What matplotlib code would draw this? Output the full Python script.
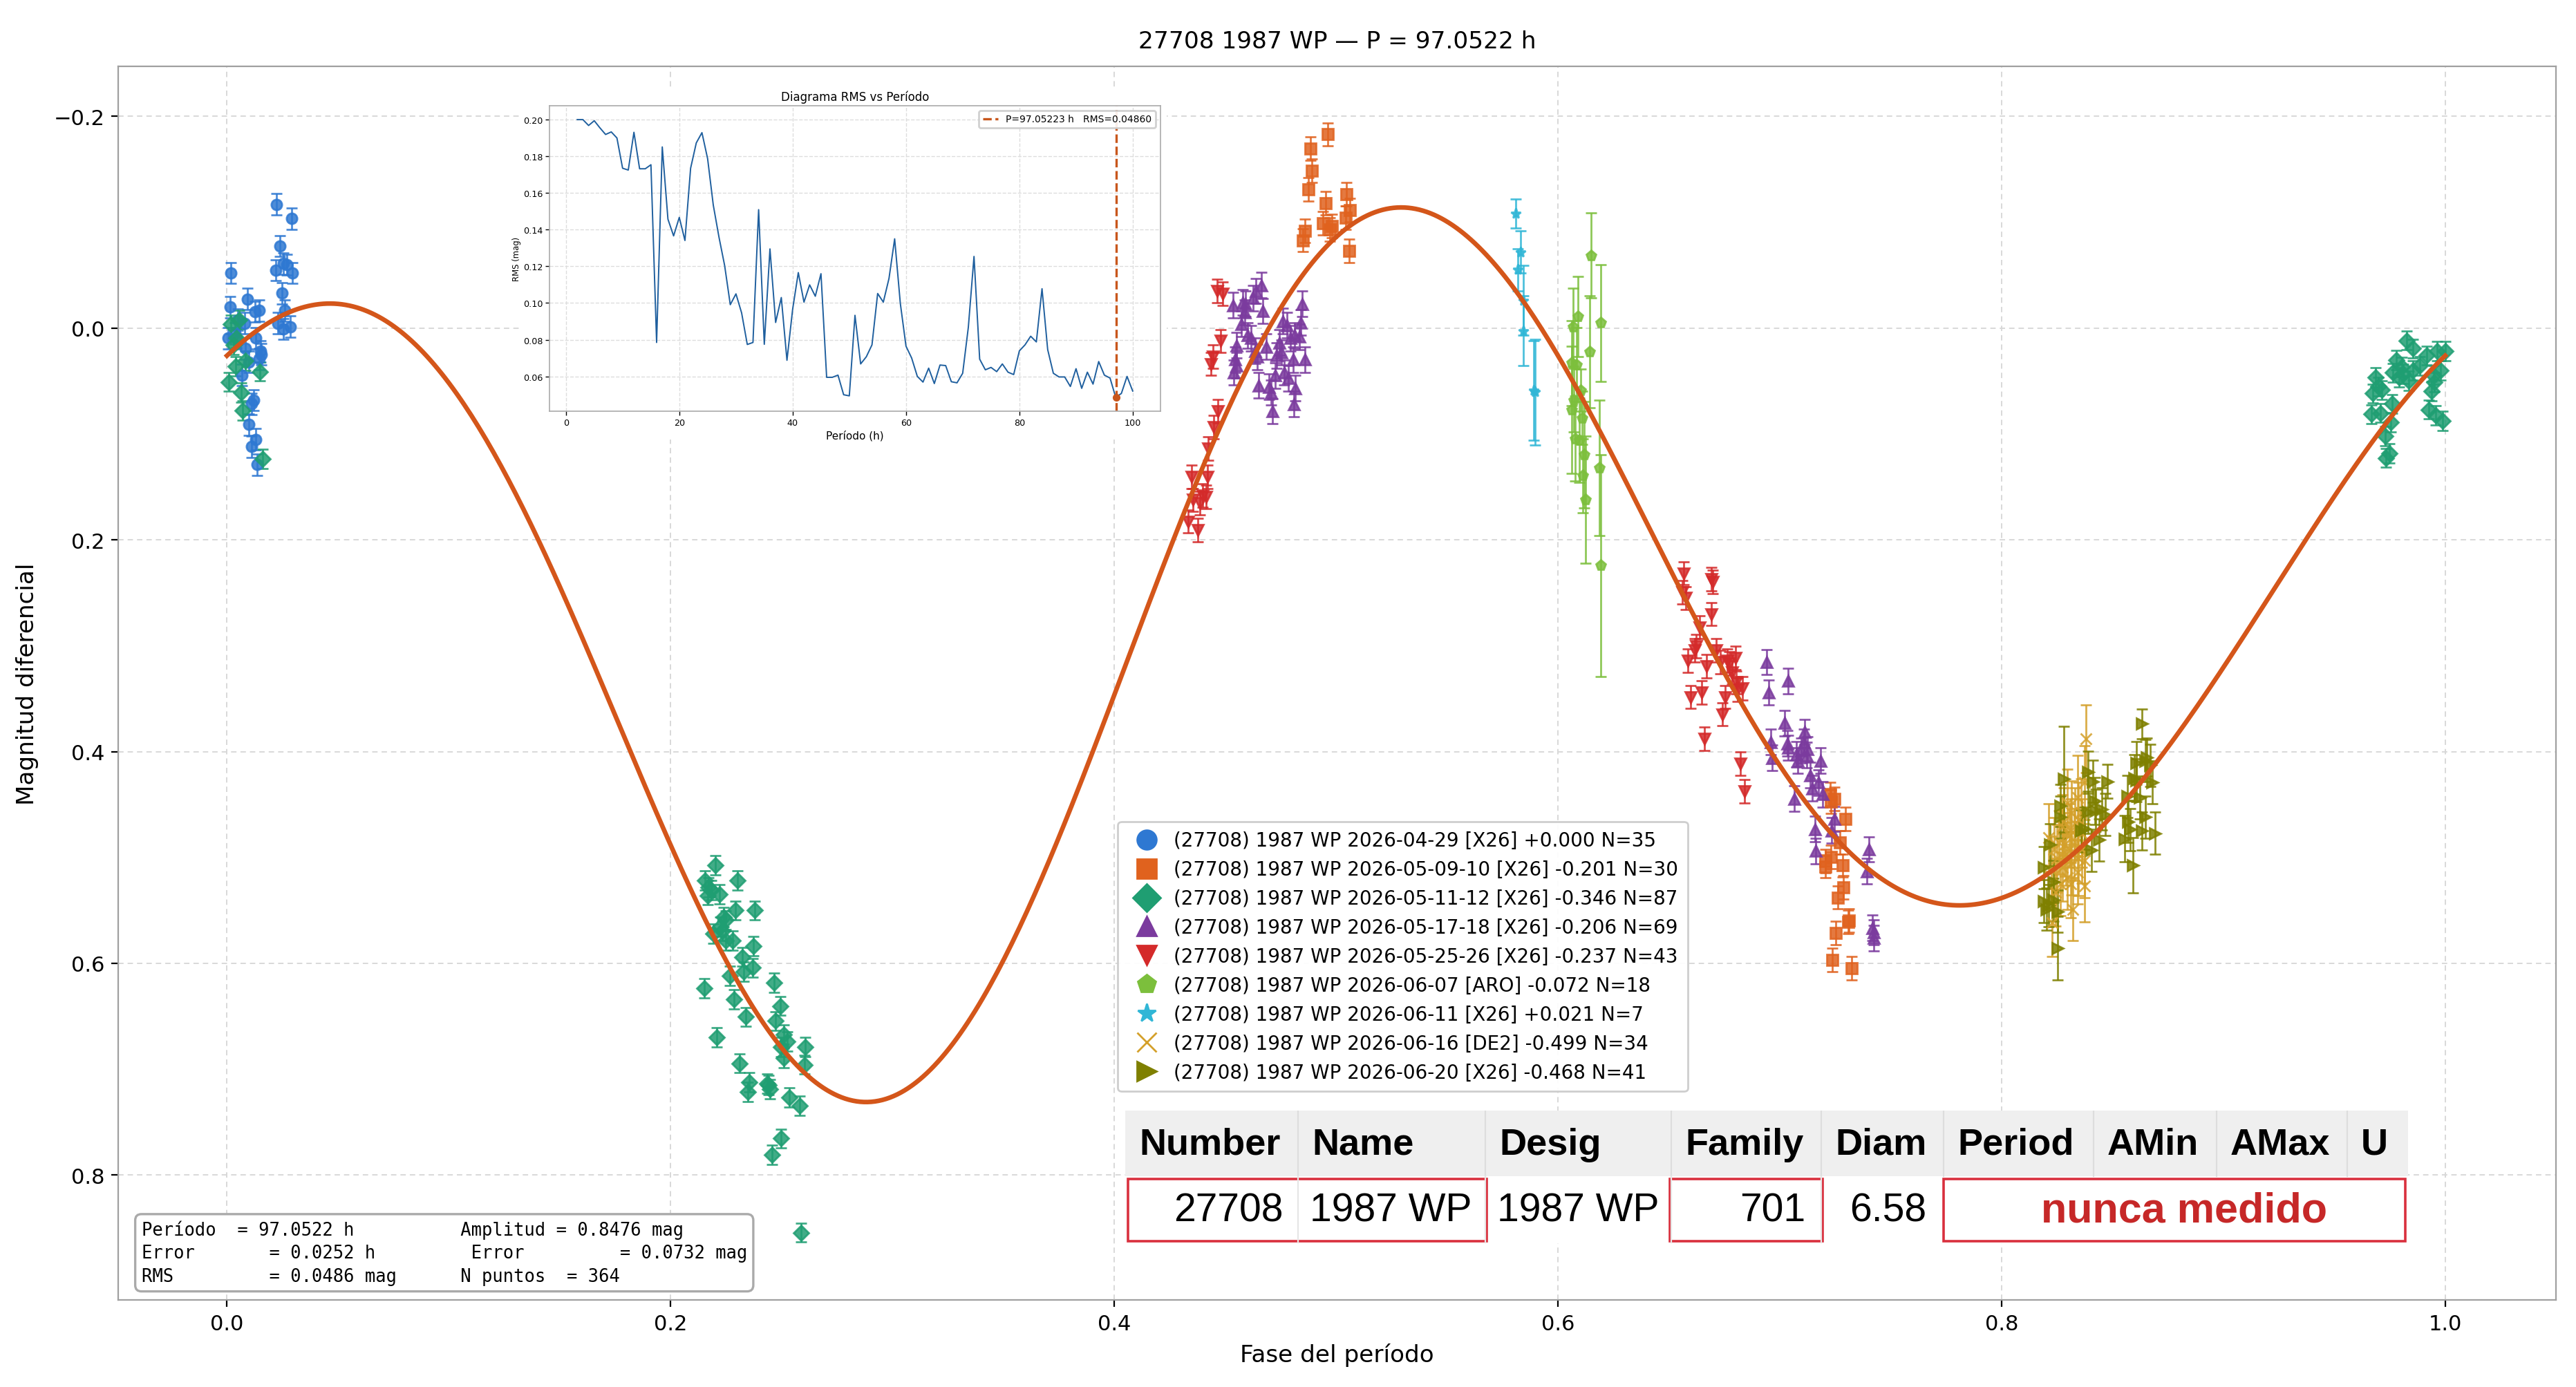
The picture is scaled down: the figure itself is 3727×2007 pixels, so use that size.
import numpy as np
import matplotlib.pyplot as plt
from matplotlib.lines import Line2D
from matplotlib.patches import Rectangle

W, H = 3727, 2008

# ---- light-curve data (phase, differential mag, error) ----
blue_ph = [0.0017, 0.0224, 0.0292, 0.0238, 0.0219, 0.0256, 0.0271, 0.0295, 0.0247, 0.0261, 0.0229, 0.0253,
           0.0286, 0.0014, 0.0092, 0.0126, 0.0146, 0.0079, 0.0006, 0.0131, 0.0084, 0.0154, 0.0146, 0.0100,
           0.0069, 0.0110, 0.0100, 0.0131, 0.0112, 0.0136, 0.0043, 0.0151, 0.0120, 0.0050, 0.0035]
blue_mag = [-0.052, -0.117, -0.1035, -0.0775, -0.0546, -0.061, -0.0598, -0.052, -0.033, -0.0166, -0.0046, 0.0009,
            -0.0013, -0.0198, -0.0274, -0.0155, -0.0166, -0.0046, 0.0095, 0.0095, 0.0193, 0.0247, 0.029, 0.032,
            0.0443, 0.0715, 0.091, 0.105, 0.112, 0.129, 0.0095, 0.022, 0.068, -0.008, 0.005]
blue_err = 0.010

orange_ph = [0.4961, 0.4883, 0.4892, 0.4875, 0.4952, 0.5048, 0.5063, 0.5042, 0.4941, 0.4982, 0.4860, 0.4849,
             0.5059, 0.4973, 0.7226, 0.7231, 0.7296, 0.7272, 0.7207, 0.7207, 0.7283, 0.7288, 0.7262, 0.7311,
             0.7252, 0.7238, 0.7324, 0.7307, 0.7231, 0.7247]
orange_mag = [-0.1830, -0.1695, -0.1487, -0.1311, -0.1181, -0.1263, -0.1117, -0.1041, -0.0992, -0.0965, -0.0919,
              -0.0830, -0.0730, -0.0932, 0.4403, 0.4471, 0.4636, 0.4856, 0.5034, 0.5084, 0.5076, 0.5282, 0.5377,
              0.5597, 0.5715, 0.5968, 0.6045, 0.5611, 0.4993, 0.4445]
orange_err = 0.011

green_ph = [0.0017, 0.0054, 0.0043, 0.0030, 0.0084, 0.0038, 0.0150, 0.0008, 0.0063, 0.0071, 0.0160,
            0.2203, 0.2156, 0.2302, 0.2172, 0.2219, 0.2167, 0.2291, 0.2380, 0.2240, 0.2193, 0.2234, 0.2281,
            0.2250, 0.2374, 0.2323, 0.2369, 0.2328, 0.2266, 0.2468, 0.2151, 0.2286, 0.2494, 0.2338, 0.2473,
            0.2510, 0.2525, 0.2208, 0.2499, 0.2608, 0.2510, 0.2603, 0.2312, 0.2354, 0.2437, 0.2349, 0.2447,
            0.2536, 0.2583, 0.2499, 0.2458, 0.2588, 0.2183, 0.2250, 0.2224, 0.2442,
            0.9827, 0.9853, 0.9780, 0.9915, 0.9962, 0.9999, 0.9765, 0.9812, 0.9853, 0.9791, 0.9947, 0.9978,
            0.9687, 0.9713, 0.9672, 0.9937, 0.9760, 0.9666, 0.9708, 0.9926, 0.9957, 0.9988, 0.9755, 0.9729,
            0.9749, 0.9734, 0.9884, 0.9805, 0.9834, 0.9952, 0.9698]
green_mag = [-0.0035, -0.008, 0.0095, 0.016, 0.031, 0.036, 0.041, 0.0508, 0.061, 0.078, 0.1237,
             0.5075, 0.5217, 0.5217, 0.5282, 0.5346, 0.5358, 0.55, 0.55, 0.5564, 0.5719, 0.5693, 0.5784,
             0.5784, 0.5836, 0.5939, 0.6042, 0.6080, 0.6119, 0.6183, 0.6235, 0.6338, 0.6403, 0.6506, 0.6545,
             0.6673, 0.6738, 0.6699, 0.6790, 0.6790, 0.6893, 0.6957, 0.6944, 0.7125, 0.7138, 0.7215, 0.7189,
             0.7266, 0.7344, 0.7654, 0.7807, 0.8543, 0.5307, 0.5592, 0.5654, 0.7150,
             0.0117, 0.0193, 0.0302, 0.0258, 0.0215, 0.0215, 0.0422, 0.0432, 0.0400, 0.0465, 0.0443, 0.0400,
             0.0465, 0.0585, 0.0617, 0.0596, 0.0715, 0.0813, 0.0802, 0.0769, 0.0824, 0.0878, 0.0889, 0.1020,
             0.1183, 0.1226, 0.0357, 0.0367, 0.0497, 0.0510, 0.0552]
green_err = 0.009

purple_ph = [0.4662, 0.4639, 0.4627, 0.4535, 0.4579, 0.4587, 0.4671, 0.4846, 0.4572, 0.4760, 0.4777, 0.4840,
             0.4601, 0.4794, 0.4835, 0.4552, 0.4685, 0.4644, 0.4731, 0.4754, 0.4806, 0.4858, 0.4552, 0.4540,
             0.4725, 0.4766, 0.4786, 0.4650, 0.4696, 0.4817, 0.4708, 0.4809, 0.4713, 0.4615, 0.4591, 0.4744,
             0.4636, 0.4813, 0.4546,
             0.6940, 0.6950, 0.7038, 0.7023, 0.7033, 0.6961, 0.6966, 0.7080, 0.7111, 0.7126, 0.7098, 0.7184,
             0.7137, 0.7147, 0.7173, 0.7194, 0.7064, 0.7246, 0.7158, 0.7235, 0.7163, 0.7402, 0.7392, 0.7418,
             0.7423, 0.7075, 0.7108, 0.7123, 0.7039, 0.7423]
purple_mag = [-0.0405, -0.0351, -0.0284, -0.0216, -0.0243, -0.0148, -0.0162, -0.0230, -0.0040, -0.0067, -0.0027,
              -0.0054, 0.0068, 0.0095, 0.0082, 0.0162, 0.0176, 0.0271, 0.0257, 0.0230, 0.0298, 0.0298, 0.0352,
              0.0419, 0.0447, 0.0419, 0.0474, 0.0541, 0.0555, 0.0568, 0.0609, 0.0717, 0.0785, 0.0095, -0.0230,
              0.0136, 0.0216, 0.0068, 0.0298,
              0.3154, 0.3442, 0.3332, 0.3731, 0.3922, 0.3909, 0.4060, 0.4087, 0.3813, 0.3977, 0.3990, 0.4087,
              0.4224, 0.4348, 0.4293, 0.4403, 0.4444, 0.4636, 0.4733, 0.4746, 0.4938, 0.4924, 0.5131, 0.5666,
              0.5762, 0.4028, 0.3909, 0.4033, 0.3964, 0.5707]
purple_err = 0.012

red_ph = [0.4463, 0.4489, 0.4479, 0.4445, 0.4437, 0.4466, 0.4448, 0.4422, 0.4348, 0.4419, 0.4356, 0.4397,
          0.4414, 0.4333, 0.4376, 0.4387,
          0.6566, 0.6691, 0.6698, 0.6561, 0.6576, 0.6691, 0.6639, 0.6623, 0.6618, 0.6587, 0.6712, 0.6670,
          0.6732, 0.6774, 0.6800, 0.6784, 0.6805, 0.6831, 0.6810, 0.6597, 0.6649, 0.6753, 0.6743, 0.6659,
          0.6821, 0.6841, 0.6763]
red_mag = [-0.0351, -0.0324, 0.0122, 0.0271, 0.0338, 0.0785, 0.0933, 0.1136, 0.1407, 0.1407, 0.1623, 0.1583,
           0.1596, 0.1826, 0.1907, 0.1651,
           0.2316, 0.2371, 0.2399, 0.2495, 0.2550, 0.2701, 0.2825, 0.3002, 0.3044, 0.3140, 0.3044, 0.3195,
           0.3154, 0.3168, 0.3113, 0.3250, 0.3346, 0.3401, 0.3415, 0.3484, 0.3442, 0.3484, 0.3648, 0.3881,
           0.4115, 0.4376, 0.3140]
red_err = 0.011

lime_ph = [0.6150, 0.6091, 0.6067, 0.6192, 0.6143, 0.6062, 0.6083, 0.6104, 0.6072, 0.6062, 0.6109, 0.6077,
           0.6098, 0.6119, 0.6187, 0.6113, 0.6124, 0.6192]
lime_mag = [-0.0687, -0.0110, -0.0010, -0.0049, 0.0224, 0.0330, 0.0346, 0.0588, 0.0680, 0.0771, 0.0847, 0.1044,
            0.1059, 0.1196, 0.1318, 0.1393, 0.1621, 0.2243]
lime_err = [0.040, 0.038, 0.037, 0.055, 0.053, 0.040, 0.035, 0.020, 0.030, 0.060, 0.025, 0.040,
            0.040, 0.050, 0.064, 0.035, 0.060, 0.105]

cyan_ph = [0.5811, 0.5831, 0.5818, 0.5844, 0.5844, 0.5891, 0.5896]
cyan_mag = [-0.1082, -0.0718, -0.0551, -0.0262, 0.0027, 0.0588, 0.0604]
cyan_err = [0.014, 0.020, 0.020, 0.033, 0.033, 0.047, 0.050]

gold_ph = [0.8381, 0.8373, 0.8342, 0.8295, 0.8316, 0.8280, 0.8347, 0.8311, 0.8212, 0.8259, 0.8326, 0.8363,
           0.8290, 0.8248, 0.8373, 0.8316, 0.8274, 0.8342, 0.8224, 0.8295, 0.8373, 0.8264, 0.8243, 0.8321,
           0.8228, 0.8306, 0.8332, 0.8358, 0.8285, 0.8347, 0.8274, 0.8363, 0.8238, 0.8311]
gold_mag = [0.3878, 0.4291, 0.4433, 0.4487, 0.4575, 0.4661, 0.4640, 0.4748, 0.4813, 0.4857, 0.4879, 0.4922,
            0.4966, 0.5009, 0.5031, 0.5053, 0.5096, 0.5140, 0.5118, 0.5194, 0.5270, 0.5249, 0.5325, 0.5488,
            0.5618, 0.4792, 0.4683, 0.4575, 0.4879, 0.5009, 0.4705, 0.4770, 0.4922, 0.5249]
gold_err = [0.032, 0.035, 0.040, 0.032, 0.030, 0.032, 0.035, 0.030, 0.032, 0.030, 0.034, 0.032,
            0.030, 0.032, 0.035, 0.030, 0.032, 0.030, 0.032, 0.030, 0.034, 0.030, 0.032, 0.030,
            0.032, 0.030, 0.034, 0.032, 0.030, 0.035, 0.030, 0.032, 0.030, 0.032]

olive_ph = [0.8633, 0.8607, 0.8654, 0.8670, 0.8597, 0.8680, 0.8566, 0.8623, 0.8649, 0.8571, 0.8581, 0.8633,
            0.8691, 0.8555, 0.8591, 0.8280, 0.8389, 0.8410, 0.8477, 0.8420, 0.8451, 0.8467, 0.8264, 0.8264,
            0.8373, 0.8441, 0.8217, 0.8405, 0.8191, 0.8233, 0.8191, 0.8233, 0.8202, 0.8254, 0.8254, 0.8212,
            0.8425, 0.8358, 0.8649, 0.8607, 0.8389]
olive_mag = [0.3737, 0.4107, 0.4053, 0.4129, 0.4248, 0.4291, 0.4422, 0.4433, 0.4618, 0.4661, 0.4737, 0.4748,
             0.4770, 0.4824, 0.5074, 0.4259, 0.4194, 0.4281, 0.4281, 0.4466, 0.4542, 0.4596, 0.4509, 0.4618,
             0.4726, 0.4835, 0.4879, 0.4933, 0.5096, 0.5227, 0.5412, 0.5400, 0.5488, 0.5509, 0.5857, 0.5455,
             0.4555, 0.4748, 0.4085, 0.4270, 0.4574]
olive_err = [0.014, 0.020, 0.018, 0.020, 0.022, 0.020, 0.020, 0.020, 0.020, 0.020, 0.020, 0.018,
             0.020, 0.022, 0.026, 0.050, 0.020, 0.020, 0.016, 0.022, 0.020, 0.020, 0.020, 0.020,
             0.020, 0.020, 0.020, 0.020, 0.020, 0.020, 0.020, 0.020, 0.020, 0.020, 0.030, 0.020,
             0.020, 0.020, 0.020, 0.020, 0.020]

labels = ["(27708) 1987 WP 2026-04-29 [X26] +0.000 N=35",
          "(27708) 1987 WP 2026-05-09-10 [X26] -0.201 N=30",
          "(27708) 1987 WP 2026-05-11-12 [X26] -0.346 N=87",
          "(27708) 1987 WP 2026-05-17-18 [X26] -0.206 N=69",
          "(27708) 1987 WP 2026-05-25-26 [X26] -0.237 N=43",
          "(27708) 1987 WP 2026-06-07 [ARO] -0.072 N=18",
          "(27708) 1987 WP 2026-06-11 [X26] +0.021 N=7",
          "(27708) 1987 WP 2026-06-16 [DE2] -0.499 N=34",
          "(27708) 1987 WP 2026-06-20 [X26] -0.468 N=41"]

# Fourier fit of the light curve, order 4: c0, (a_k, b_k) for k = 1..4
fit_coef = [0.28502, 0.01538, 0.05607, -0.31635, -0.15478, 0.04063, -0.02099, 0.00136, -0.00028]

# RMS periodogram (inset)
per_h = list(range(2, 101))
rms = [0.200, 0.200, 0.1968, 0.1994, 0.1955, 0.1919, 0.1933, 0.1900, 0.1735, 0.1725, 0.1931, 0.1732,
       0.1732, 0.1754, 0.0785, 0.1851, 0.1457, 0.1366, 0.1467, 0.1341, 0.1735, 0.1873, 0.1929, 0.1787,
       0.1534, 0.1360, 0.1205, 0.0991, 0.1050, 0.0946, 0.0774, 0.0785, 0.1509, 0.0775, 0.1295, 0.0894,
       0.1030, 0.0688, 0.0966, 0.1166, 0.1005, 0.1099, 0.1037, 0.1160, 0.0595, 0.0595, 0.0607, 0.0500,
       0.0494, 0.0933, 0.0668, 0.0707, 0.0772, 0.1052, 0.1005, 0.1134, 0.1350, 0.0998, 0.0765, 0.0700,
       0.0600, 0.0569, 0.0645, 0.0561, 0.0662, 0.0659, 0.0571, 0.0565, 0.0617, 0.0868, 0.1254, 0.0694,
       0.0636, 0.0649, 0.0626, 0.0668, 0.0623, 0.0610, 0.0739, 0.0772, 0.0819, 0.0788, 0.1078, 0.0746,
       0.0617, 0.0597, 0.0597, 0.0545, 0.0642, 0.0535, 0.0623, 0.0558, 0.0681, 0.0607, 0.0591, 0.0486,
       0.0507, 0.0600, 0.0520]
best_p, best_rms = 97.05223, 0.04860

stats = ("Período  = 97.0522 h          Amplitud = 0.8476 mag\n"
         "Error       = 0.0252 h         Error         = 0.0732 mag\n"
         "RMS         = 0.0486 mag      N puntos  = 364")

fig = plt.figure(figsize=(W / 200, H / 200), dpi=200)
ax = fig.add_axes([0.0459, 0.0627, 0.9464, 0.8888])

series = [
    (blue_ph, blue_mag, blue_err, "o", "#2e78d2"),
    (orange_ph, orange_mag, orange_err, "s", "#e0621e"),
    (green_ph, green_mag, green_err, "D", "#1f9e72"),
    (purple_ph, purple_mag, purple_err, "^", "#7b3b9e"),
    (red_ph, red_mag, red_err, "v", "#d42a2a"),
    (lime_ph, lime_mag, lime_err, "p", "#7cbf3c"),
    (cyan_ph, cyan_mag, cyan_err, "*", "#30b6d6"),
    (gold_ph, gold_mag, gold_err, "x", "#d4a02a"),
    (olive_ph, olive_mag, olive_err, ">", "#7f8000"),
]
handles = []
for (ph, mg, er, mk, col), lab in zip(series, labels):
    ax.errorbar(ph, mg, yerr=er, fmt=mk, color=col, ms=5.5, elinewidth=1.0, capsize=2.8,
                capthick=1.0, alpha=0.85, zorder=3)
    handles.append(Line2D([], [], ls="none", marker=mk, color=col, ms=10, label=lab))

xx = np.linspace(0, 1, 600)
yy = np.full_like(xx, fit_coef[0])
for k in range(1, 5):
    yy += fit_coef[2 * k - 1] * np.cos(2 * np.pi * k * xx) + fit_coef[2 * k] * np.sin(2 * np.pi * k * xx)
ax.plot(xx, yy, color="#d4561a", lw=2.4, zorder=4)

ax.set_xlim(-0.049, 1.050)
ax.set_ylim(0.918, -0.247)
ax.set_xticks([0.0, 0.2, 0.4, 0.6, 0.8, 1.0])
ax.set_yticks([-0.2, 0.0, 0.2, 0.4, 0.6, 0.8])
ax.tick_params(labelsize=11)
ax.grid(True, ls=(0, (4, 3)), color="#d8d8d8", lw=0.7)
for s in ax.spines.values():
    s.set_color("#a0a0a0")
ax.set_xlabel("Fase del período", fontsize=12.3, labelpad=5)
ax.set_ylabel("Magnitud diferencial", fontsize=12.3, labelpad=8)
ax.set_title("27708 1987 WP — P = 97.0522 h", fontsize=12.4, pad=10)

leg = ax.legend(handles=handles, loc="lower left", bbox_to_anchor=(0.410, 0.169), fontsize=10,
                borderaxespad=0, framealpha=0.95, edgecolor="#cccccc", handletextpad=0.4,
                labelspacing=0.5, borderpad=0.5)
leg.set_zorder(5)

ax.text(0.0095, 0.012, stats, transform=ax.transAxes, family="DejaVu Sans Mono", fontsize=9.2,
        va="bottom", ha="left", zorder=6, linespacing=1.36,
        bbox=dict(boxstyle="round,pad=0.35", fc="white", ec="#aaaaaa", lw=1.2))

# ---- table image recreated ----
tx0, tx1, ty0, ty1 = 1628, 3484, 1608, 1800
axt = fig.add_axes([tx0 / W, 1 - ty1 / H, (tx1 - tx0) / W, (ty1 - ty0) / H])
axt.set_xlim(tx0, tx1)
axt.set_ylim(ty1, ty0)
axt.axis("off")
col_edges = [1628, 1878, 2149, 2418, 2635, 2812, 3029, 3207, 3396, 3484]
headers = ["Number", "Name", "Desig", "Family", "Diam", "Period", "AMin", "AMax", "U"]
axt.add_patch(Rectangle((1628, 1608), 1856, 95, fc="#efefef", ec="none"))
axt.add_patch(Rectangle((1628, 1703), 1856, 97, fc="white", ec="none"))
for xe in col_edges[1:-1]:
    axt.plot([xe, xe], [1608, 1703], color="#dddddd", lw=0.8)
for xe in [1878, 2149, 2418, 2635]:
    axt.plot([xe, xe], [1703, 1800], color="#e6e6e6", lw=0.8)
for xe, h in zip(col_edges[:-1], headers):
    axt.text(xe + 20, 1657, h, fontsize=19.5, fontweight="bold", family="Liberation Sans",
             ha="left", va="center")
axt.text(1857, 1753, "27708", fontsize=20.5, family="Liberation Sans", ha="right", va="center")
axt.text(1895, 1753, "1987 WP", fontsize=20.5, family="Liberation Sans", ha="left", va="center")
axt.text(2166, 1753, "1987 WP", fontsize=20.5, family="Liberation Sans", ha="left", va="center")
axt.text(2612, 1753, "701", fontsize=20.5, family="Liberation Sans", ha="right", va="center")
axt.text(2787, 1753, "6.58", fontsize=20.5, family="Liberation Sans", ha="right", va="center")
axt.text(3160, 1753, "nunca medido", fontsize=22, fontweight="bold", color="#c62828",
         family="Liberation Sans", ha="center", va="center")
for x0, x1 in [(1632, 2151), (2416, 2637), (2812, 3480)]:
    axt.add_patch(Rectangle((x0, 1707), x1 - x0, 90, fc="none", ec="#d9303e", lw=1.3))

# ---- inset: RMS vs period ----
bg = fig.add_axes([752 / W, 1 - 637 / H, (1688 - 752) / W, (637 - 131) / H])
bg.set_facecolor("white")
bg.set_xticks([])
bg.set_yticks([])
for s in bg.spines.values():
    s.set_visible(False)
ins = fig.add_axes([795 / W, 1 - 596 / H, (1679 - 795) / W, (596 - 154) / H])
ins.plot(per_h, rms, color="#1f5f9e", lw=0.7)
ins.axvline(best_p, color="#c8561c", ls="--", lw=1.2, label=f"P={best_p:.5f} h   RMS={best_rms:.5f}")
ins.plot([best_p], [best_rms], "o", color="#c8561c", ms=3)
ins.set_title("Diagrama RMS vs Período", fontsize=6, pad=3)
ins.set_xlabel("Período (h)", fontsize=5.5, labelpad=1.5)
ins.set_ylabel("RMS (mag)", fontsize=4.2, labelpad=1)
ins.set_xticks([0, 20, 40, 60, 80, 100])
ins.set_yticks([0.06, 0.08, 0.10, 0.12, 0.14, 0.16, 0.18, 0.20])
ins.yaxis.set_major_formatter(plt.FormatStrFormatter("%.2f"))
ins.tick_params(labelsize=4.6, length=2, width=0.5, pad=1.5)
ins.grid(True, ls="--", color="#dddddd", lw=0.5)
for s in ins.spines.values():
    s.set_color("#aaaaaa")
    s.set_linewidth(0.6)
ins.legend(loc="upper right", fontsize=5, handlelength=1.6, framealpha=0.9, borderpad=0.4)

fig.savefig("out.png", dpi=200)
